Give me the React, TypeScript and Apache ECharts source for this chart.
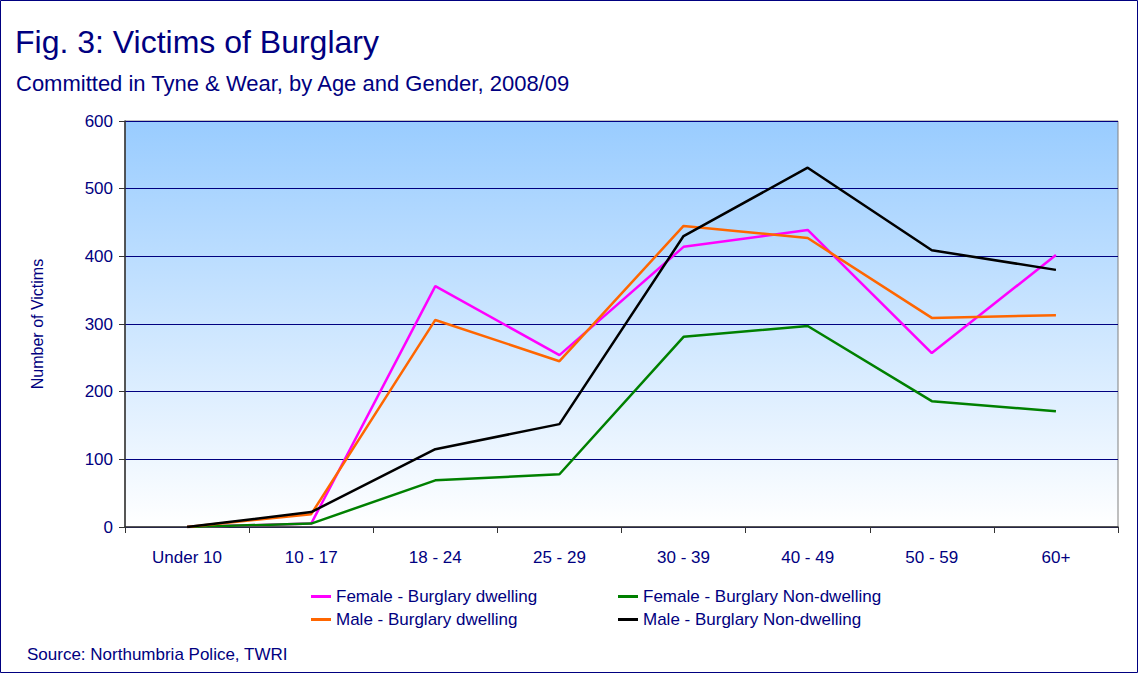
import React, { useEffect, useRef } from "react";
import * as echarts from "echarts";

const categories = ["Under 10", "10 - 17", "18 - 24", "25 - 29", "30 - 39", "40 - 49", "50 - 59", "60+"];
const femaleDwelling = [0, 5, 356, 254, 414, 439, 257, 402];
const femaleNonDwelling = [0, 5, 69, 78, 281, 297, 186, 171];
const maleDwelling = [0, 19, 306, 245, 445, 427, 309, 313];
const maleNonDwelling = [0, 22, 115, 152, 430, 531, 409, 380];
const yTicks = { min: 0, max: 600, interval: 100 };

const NAVY = "#000080";
const FONT = "'Liberation Sans', Arial, sans-serif";

export default function App() {
  const ref = useRef<HTMLDivElement>(null);
  useEffect(() => {
    if (!ref.current) return;
    const chart = echarts.init(ref.current, null, { renderer: "svg" });
    const mk = (name: string, data: number[], color: string) => ({
      name,
      type: "line",
      data,
      showSymbol: false,
      symbol: "none",
      lineStyle: { color, width: 2.5 },
      itemStyle: { color },
    });
    chart.setOption({
      animation: false,
      backgroundColor: "#ffffff",
      textStyle: { fontFamily: FONT },
      title: [
        {
          text: "Fig. 3: Victims of Burglary",
          left: 10,
          top: 21,
          textStyle: { fontFamily: FONT, fontSize: 32, fontWeight: "normal", color: NAVY },
        },
        {
          text: "Committed in Tyne & Wear, by Age and Gender, 2008/09",
          left: 11,
          top: 67,
          textStyle: { fontFamily: FONT, fontSize: 22, fontWeight: "normal", color: NAVY },
        },
        {
          text: "Source: Northumbria Police, TWRI",
          left: 22,
          top: 641,
          textStyle: { fontFamily: FONT, fontSize: 17, fontWeight: "normal", color: NAVY },
        },
      ],
      graphic: [
        {
          type: "rect",
          shape: { x: 0.5, y: 0.5, width: 1137, height: 672 },
          style: { fill: "none", stroke: NAVY, lineWidth: 1 },
          silent: true,
        },
      ],
      legend: [
        {
          orient: "vertical",
          left: 306,
          top: 583,
          itemGap: 6,
          itemWidth: 20,
          itemHeight: 3,
          icon: "rect",
          textStyle: { fontFamily: FONT, fontSize: 17, color: NAVY },
          data: ["Female - Burglary dwelling", "Male - Burglary dwelling"],
        },
        {
          orient: "vertical",
          left: 613,
          top: 583,
          itemGap: 6,
          itemWidth: 20,
          itemHeight: 3,
          icon: "rect",
          textStyle: { fontFamily: FONT, fontSize: 17, color: NAVY },
          data: ["Female - Burglary Non-dwelling", "Male - Burglary Non-dwelling"],
        },
      ],
      grid: {
        left: 125,
        right: 20,
        top: 121,
        bottom: 146,
        show: true,
        borderColor: "#808080",
        borderWidth: 1,
        backgroundColor: new echarts.graphic.LinearGradient(0, 0, 0, 1, [
          { offset: 0, color: "#99CCFF" },
          { offset: 1, color: "#FFFFFF" },
        ]),
      },
      xAxis: {
        type: "category",
        data: categories,
        boundaryGap: true,
        axisLine: { lineStyle: { color: "#333333", width: 1.5 } },
        axisTick: { show: true, length: 6, lineStyle: { color: "#333333" } },
        axisLabel: { margin: 22, fontSize: 17, color: NAVY, fontFamily: FONT },
        splitLine: { show: false },
      },
      yAxis: {
        type: "value",
        min: yTicks.min,
        max: yTicks.max,
        interval: yTicks.interval,
        name: "Number of Victims",
        nameLocation: "middle",
        nameGap: 80,
        nameTextStyle: { fontFamily: FONT, fontSize: 16, color: NAVY },
        axisLine: { show: true, lineStyle: { color: "#333333", width: 1.5 } },
        axisTick: { show: true, length: 6, lineStyle: { color: "#333333" } },
        axisLabel: { margin: 12, fontSize: 17, color: NAVY, fontFamily: FONT },
        splitLine: { show: true, lineStyle: { color: NAVY, width: 1 } },
      },
      series: [
        mk("Female - Burglary dwelling", femaleDwelling, "#FF00FF"),
        mk("Female - Burglary Non-dwelling", femaleNonDwelling, "#008000"),
        mk("Male - Burglary dwelling", maleDwelling, "#FF6600"),
        mk("Male - Burglary Non-dwelling", maleNonDwelling, "#000000"),
      ],
    });
    return () => chart.dispose();
  }, []);
  return (
    <div
      ref={ref}
      style={{ position: "absolute", left: 0, top: 0, width: 1138, height: 673 }}
    />
  );
}
